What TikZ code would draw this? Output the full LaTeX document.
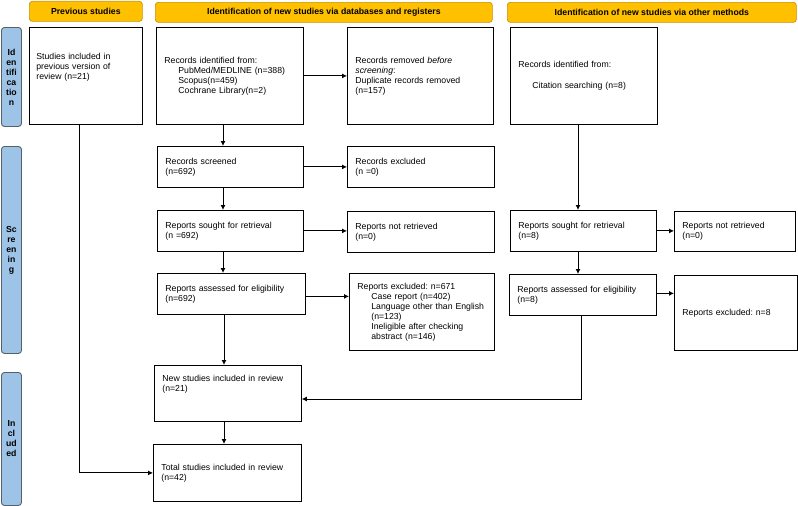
\documentclass[tikz,border=0pt]{standalone}
\usepackage{fontspec}
\setmainfont{Liberation Sans}
\usetikzlibrary{arrows.meta,calc}
\frenchspacing
\definecolor{hdrfill}{HTML}{FFC000}
\definecolor{hdrdraw}{HTML}{C59200}
\definecolor{sidefill}{HTML}{9DC3E6}
\definecolor{sidedraw}{HTML}{55606B}
\tikzset{
  txt/.style={font=\fontsize{8.7}{10}\selectfont},
  box/.style={txt, draw=black, line width=0.8pt, align=left, anchor=north west,
    inner xsep=8pt, inner ysep=0pt},
  hdr/.style={txt, font=\fontsize{8.7}{10}\selectfont\bfseries, draw=hdrdraw, fill=hdrfill,
    rounded corners=3pt, line width=0.7pt, anchor=north west, inner sep=0pt},
  side/.style={txt, font=\fontsize{8.7}{10}\selectfont\bfseries, draw=sidedraw, fill=sidefill,
    rounded corners=3pt, line width=0.9pt, anchor=north west, inner sep=0pt, align=center},
  arr/.style={draw=black, line width=0.9pt, -{Latex[length=5pt,width=5pt]}}
}
\begin{document}
\begin{tikzpicture}[x=1pt,y=-1pt]
\useasboundingbox (0,0) rectangle (798,506);
% headers
\node[hdr, minimum width=113pt, minimum height=20pt] (h1) at (29,1) {Previous studies};
\node[hdr, minimum width=337pt, minimum height=20pt] (h2) at (155,2) {Identification of new studies via databases and registers};
\node[hdr, minimum width=289pt, minimum height=20pt] (h3) at (507,2) {Identification of new studies via other methods};
% side labels
\node[side, minimum width=20pt, minimum height=99pt] (s1) at (1,27) {Id\\en\\tifi\\ca\\tio\\n};
\node[side, minimum width=20pt, minimum height=207pt] (s2) at (1,146) {Sc\\re\\en\\in\\g};
\node[side, minimum width=20pt, minimum height=133pt] (s3) at (1,372) {In\\cl\\ud\\ed};
% boxes
\node[box, minimum width=113pt, minimum height=97pt, text width=99pt, inner xsep=7pt] (prev) at (29,27)
  {Studies included in\\previous version of\\review (n=21)\\\mbox{}\\\mbox{}};
\node[box, minimum width=147pt, minimum height=97pt, text width=131pt] (rid) at (156,27)
  {Records identified from:\\\hspace*{14pt}PubMed/MEDLINE (n=388)\\\hspace*{14pt}Scopus(n=459)\\\hspace*{14pt}Cochrane Library(n=2)};
\node[box, minimum width=146pt, minimum height=97pt, text width=130pt] (rrem) at (347,27)
  {Records removed \textit{before}\\\textit{screening}:\\Duplicate records removed\\(n=157)};
\node[box, minimum width=147pt, minimum height=97pt, text width=131pt] (oid) at (510,27)
  {Records identified from:\\[11pt]\hspace*{14pt}Citation searching (n=8)};
\node[box, minimum width=146pt, minimum height=41pt, text width=130pt] (rscr) at (157,146)
  {Records screened\\(n=692)};
\node[box, minimum width=147pt, minimum height=41pt, text width=131pt] (rexc) at (347,146)
  {Records excluded\\(n =0)};
\node[box, minimum width=146pt, minimum height=41pt, text width=130pt] (rsou) at (157,210)
  {Reports sought for retrieval\\(n =692)};
\node[box, minimum width=147pt, minimum height=41pt, text width=131pt] (rnot) at (347,211)
  {Reports not retrieved\\(n=0)};
\node[box, minimum width=146pt, minimum height=41pt, text width=130pt] (osou) at (510,210)
  {Reports sought for retrieval\\(n=8)};
\node[box, minimum width=121pt, minimum height=40pt, text width=105pt] (onot) at (674,211)
  {Reports not retrieved\\(n=0)};
\node[box, minimum width=148pt, minimum height=41pt, text width=132pt] (rass) at (157,273)
  {Reports assessed for eligibility\\(n=692)};
\node[box, minimum width=145pt, minimum height=77pt, text width=129pt] (rrex) at (349,273)
  {Reports excluded: n=671\\\hspace*{14pt}Case report (n=402)\\\hspace*{14pt}Language other than English\\\hspace*{14pt}(n=123)\\\hspace*{14pt}Ineligible after checking\\\hspace*{14pt}abstract (n=146)};
\node[box, minimum width=147pt, minimum height=41pt, text width=131pt] (oass) at (509,274)
  {Reports assessed for eligibility\\(n=8)};
\node[box, minimum width=123pt, minimum height=75pt, text width=107pt] (orex) at (674,275)
  {Reports excluded: n=8};
\node[box, minimum width=147pt, minimum height=56pt, text width=131pt] (new) at (154,365)
  {New studies included in review\\(n=21)\\\mbox{}\\\mbox{}};
\node[box, minimum width=148pt, minimum height=57pt, text width=132pt] (tot) at (153,444)
  {Total studies included in review\\(n=42)};
% helper coordinates
\coordinate (cx) at (223,0);
\coordinate (ox) at (578,0);
\coordinate (k1) at (79,473);
\coordinate (k2) at (581,399);
% connectors
\draw[arr] (prev.south -| k1) |- (tot.west);
\draw[arr] (rid.east) -- (rrem.west);
\draw[arr] (rid.south -| cx) -- (rscr.north -| cx);
\draw[arr] (rscr.east) -- (rscr.east -| rexc.west);
\draw[arr] (rscr.south -| cx) -- (rsou.north -| cx);
\draw[arr] (rsou.east) -- (rsou.east -| rnot.west);
\draw[arr] (rsou.south -| cx) -- (rass.north -| cx);
\draw[arr] ($(rass.east)+(0,2.5)$) -- ($(rass.east -| rrex.west)+(0,2.5)$);
\draw[arr] ($(rass.south -| cx)+(1,0)$) -- ($(new.north -| cx)+(1,0)$);
\draw[arr] ($(new.south -| cx)+(1,0)$) -- ($(tot.north -| cx)+(1,0)$);
\draw[arr] (oid.south -| ox) -- (osou.north -| ox);
\draw[arr] (osou.east) -- (osou.east -| onot.west);
\draw[arr] (osou.south -| ox) -- (oass.north -| ox);
\draw[arr] ($(oass.east)+(0,-1.5)$) -- ($(oass.east -| orex.west)+(0,-1.5)$);
\draw[arr] (oass.south -| k2) |- (new.east |- k2);
\end{tikzpicture}
\end{document}
